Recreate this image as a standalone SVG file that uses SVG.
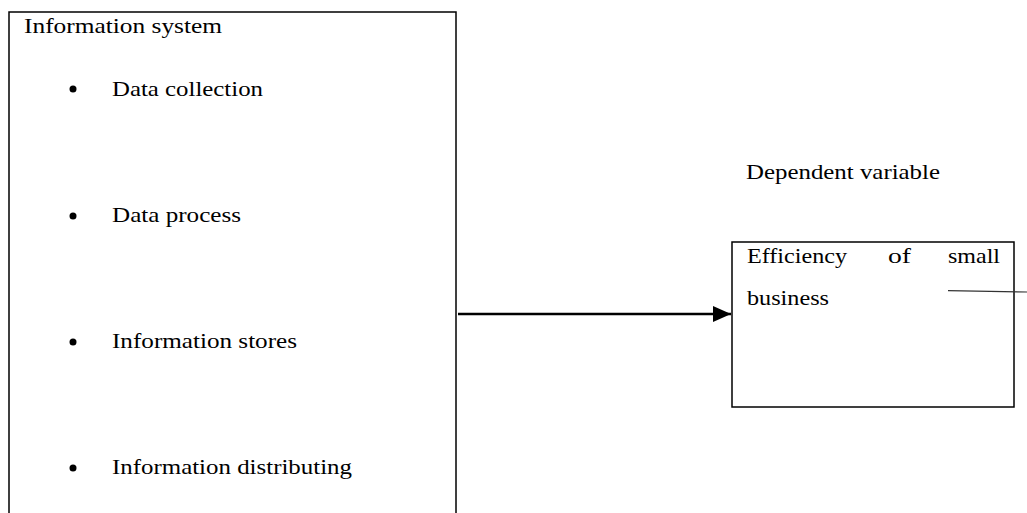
<svg xmlns="http://www.w3.org/2000/svg" width="1027" height="513" viewBox="0 0 1027 513">
<style>
.box{fill:#fff;stroke:#000;stroke-width:1.5}
.t{font-family:"Liberation Serif","Times New Roman",serif;font-size:22px;fill:#000}
.b{fill:#000}
</style>
<defs>
<marker id="ah" markerWidth="18" markerHeight="16" refX="18" refY="8" orient="auto" markerUnits="userSpaceOnUse">
<path d="M0,0 L18,8 L0,16 Z" fill="#000"/>
</marker>
</defs>
<rect width="1027" height="513" fill="#fff"/>
<g id="information-system">
<rect class="box" x="9" y="12" width="447" height="520"/>
<text class="t" x="24" y="33" textLength="198" lengthAdjust="spacingAndGlyphs">Information system</text>
<circle class="b" cx="73" cy="89" r="3.5"/>
<text class="t" x="112" y="96" textLength="151" lengthAdjust="spacingAndGlyphs">Data collection</text>
<circle class="b" cx="73" cy="216" r="3.5"/>
<text class="t" x="112" y="222" textLength="129" lengthAdjust="spacingAndGlyphs">Data process</text>
<circle class="b" cx="73" cy="342" r="3.5"/>
<text class="t" x="112" y="348" textLength="185" lengthAdjust="spacingAndGlyphs">Information stores</text>
<circle class="b" cx="73" cy="468" r="3.5"/>
<text class="t" x="112" y="474" textLength="240" lengthAdjust="spacingAndGlyphs">Information distributing</text>
</g>
<g id="dependent-label">
<text class="t" x="746" y="179" textLength="194" lengthAdjust="spacingAndGlyphs">Dependent variable</text>
</g>
<g id="efficiency">
<rect class="box" x="732" y="242" width="282" height="165"/>
<text class="t" x="747" y="263" textLength="100" lengthAdjust="spacingAndGlyphs">Efficiency</text>
<text class="t" x="888" y="263" textLength="23" lengthAdjust="spacingAndGlyphs">of</text>
<text class="t" x="948" y="263" textLength="52" lengthAdjust="spacingAndGlyphs">small</text>
<text class="t" x="747" y="305" textLength="82" lengthAdjust="spacingAndGlyphs">business</text>
</g>
<g id="connectors">
<line x1="458" y1="314" x2="731" y2="314" stroke="#000" stroke-width="2.5" marker-end="url(#ah)"/>
<line x1="948" y1="290.7" x2="1027" y2="292" stroke="#333" stroke-width="1.2"/>
</g>
</svg>
